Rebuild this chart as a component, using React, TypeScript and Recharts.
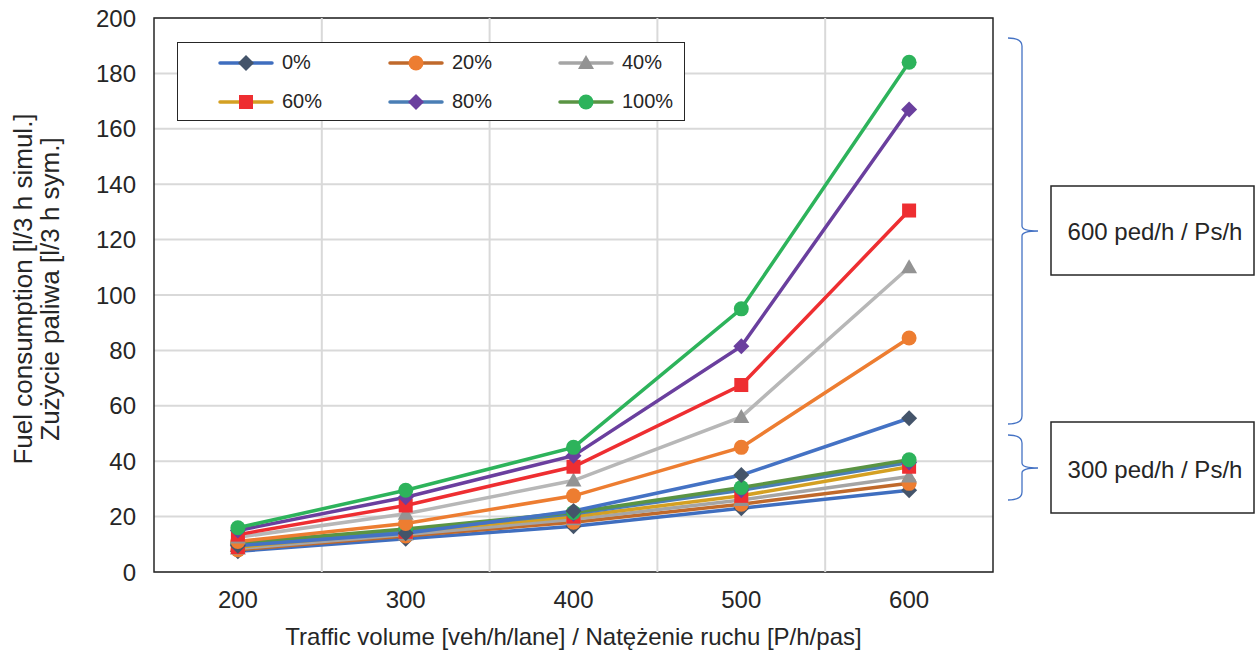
import React from "react";
import { CartesianGrid, Legend, Line, LineChart, ReferenceArea, ReferenceLine, XAxis, YAxis } from "recharts";

// traffic volume categories
const volumes = [200, 300, 400, 500, 600];
const yTicks = [0, 20, 40, 60, 80, 100, 120, 140, 160, 180, 200];
const shares = ["0%", "20%", "40%", "60%", "80%", "100%"];

// 300 ped/h
const ped300_0 = [7.5, 12, 16.5, 23, 29.5];
const ped300_20 = [8, 13, 18, 24.5, 32];
const ped300_40 = [8.5, 13.5, 19, 26, 34.5];
const ped300_60 = [9, 14.5, 20, 27.5, 38];
const ped300_80 = [10, 15, 21, 29.5, 39.5];
const ped300_100 = [10.5, 15.5, 21.5, 30.5, 40.5];

// 600 ped/h
const ped600_0 = [9.5, 14, 22, 35, 55.5];
const ped600_20 = [11, 17.5, 27.5, 45, 84.5];
const ped600_40 = [12.5, 21, 33, 56, 110];
const ped600_60 = [13.5, 24, 38, 67.5, 130.5];
const ped600_80 = [15, 27, 42, 81.5, 167];
const ped600_100 = [16, 29.5, 45, 95, 184];

type Shape = "diamond" | "circle" | "triangle" | "square";
type Series = { key: string; label: string; values: number[]; line: string; marker: string; shape: Shape };

const series300: Series[] = [
  { key: "p300_0", label: shares[0], values: ped300_0, line: "#3F6EBF", marker: "#44546A", shape: "diamond" },
  { key: "p300_20", label: shares[1], values: ped300_20, line: "#C0692B", marker: "#ED7D31", shape: "circle" },
  { key: "p300_40", label: shares[2], values: ped300_40, line: "#A5A5A5", marker: "#939393", shape: "triangle" },
  { key: "p300_60", label: shares[3], values: ped300_60, line: "#D4A022", marker: "#EE2E31", shape: "square" },
  { key: "p300_80", label: shares[4], values: ped300_80, line: "#4A7EB5", marker: "#6A3F9E", shape: "diamond" },
  { key: "p300_100", label: shares[5], values: ped300_100, line: "#5A9443", marker: "#2DB35B", shape: "circle" },
];

const series600: Series[] = [
  { key: "p600_0", label: shares[0], values: ped600_0, line: "#4472C4", marker: "#44546A", shape: "diamond" },
  { key: "p600_20", label: shares[1], values: ped600_20, line: "#ED7D31", marker: "#ED7D31", shape: "circle" },
  { key: "p600_40", label: shares[2], values: ped600_40, line: "#B7B7B7", marker: "#939393", shape: "triangle" },
  { key: "p600_60", label: shares[3], values: ped600_60, line: "#EE2E31", marker: "#EE2E31", shape: "square" },
  { key: "p600_80", label: shares[4], values: ped600_80, line: "#6A3F9E", marker: "#6A3F9E", shape: "diamond" },
  { key: "p600_100", label: shares[5], values: ped600_100, line: "#2DB35B", marker: "#2DB35B", shape: "circle" },
];

const allSeries = [...series300, ...series600];

const data = volumes.map((v, i) => {
  const row: Record<string, number> = { x: v };
  allSeries.forEach((s) => { row[s.key] = s.values[i]; });
  return row;
});

const FONT = "'Liberation Sans', Arial, sans-serif";
const TEXT = "#262626";

const markerShape = (shape: Shape, cx: number, cy: number, color: string, key?: string) => {
  if (shape === "circle") return <circle key={key} cx={cx} cy={cy} r={7.5} fill={color} />;
  if (shape === "square") return <rect key={key} x={cx - 7} y={cy - 7} width={14} height={14} fill={color} />;
  if (shape === "triangle")
    return <polygon key={key} points={`${cx},${cy - 8} ${cx + 8},${cy + 6} ${cx - 8},${cy + 6}`} fill={color} />;
  return <polygon key={key} points={`${cx},${cy - 8} ${cx + 8},${cy} ${cx},${cy + 8} ${cx - 8},${cy}`} fill={color} />;
};

const makeDot = (s: Series) => (props: any) => markerShape(s.shape, props.cx, props.cy, s.marker, `${s.key}-${props.index}`);

const LegendBox = () => (
  <div
    style={{
      width: 508, height: 79, boxSizing: "border-box", border: "1.5px solid #262626", background: "#fff",
      display: "grid", gridTemplateColumns: "170px 170px 168px", gridTemplateRows: "39px 39px",
      paddingLeft: 40, paddingTop: 0, fontFamily: FONT, fontSize: 20, color: TEXT,
    }}
  >
    {series300.map((s) => (
      <div key={s.key} style={{ display: "flex", alignItems: "center" }}>
        <svg width={56} height={20} style={{ marginRight: 8 }}>
          <line x1={2} y1={10} x2={54} y2={10} stroke={s.line} strokeWidth={3.5} strokeLinecap="round" />
          {markerShape(s.shape, 28, 10, s.marker)}
        </svg>
        <span>{s.label}</span>
      </div>
    ))}
  </div>
);

const Brace = ({ x, top, bottom, mid }: { x: number; top: number; bottom: number; mid: number }) => {
  const d = `M ${x} ${top} Q ${x + 14} ${top} ${x + 14} ${top + 8} L ${x + 14} ${mid - 5} Q ${x + 14} ${mid} ${x + 30} ${mid}`
    + ` Q ${x + 14} ${mid} ${x + 14} ${mid + 5} L ${x + 14} ${bottom - 8} Q ${x + 14} ${bottom} ${x} ${bottom}`;
  return <path d={d} fill="none" stroke="#4472C4" strokeWidth={1.3} />;
};

export default function App() {
  return (
    <div style={{ position: "absolute", left: 0, top: 0, width: 1256, height: 652, background: "#fff" }}>
      <LineChart width={1256} height={652} data={data} margin={{ top: 18, right: 263, bottom: 20, left: 94 }}>
        <CartesianGrid vertical={false} stroke="#D9D9D9" strokeWidth={2} />
        {[250, 350, 450, 550].map((v) => (
          <ReferenceLine key={v} x={v} stroke="#D9D9D9" strokeWidth={2} />
        ))}
        <ReferenceArea x1={150} x2={650} y1={0} y2={200} fill="none" stroke="#262626" strokeWidth={1.5} ifOverflow="visible" />
        <XAxis
          type="number"
          dataKey="x"
          domain={[150, 650]}
          ticks={volumes}
          axisLine={false}
          tickLine={false}
          tickMargin={13}
          height={60}
          tick={{ fontSize: 24, fill: TEXT, fontFamily: FONT }}
          label={{
            content: (p: any) => (
              <text x={p.viewBox.x + p.viewBox.width / 2} y={645} textAnchor="middle" fontSize={24} fill={TEXT} fontFamily={FONT}>
                Traffic volume [veh/h/lane] / Natężenie ruchu [P/h/pas]
              </text>
            ),
          }}
        />
        <YAxis
          domain={[0, 200]}
          ticks={yTicks}
          axisLine={false}
          tickLine={false}
          tickMargin={12}
          width={60}
          tick={{ fontSize: 24, fill: TEXT, fontFamily: FONT }}
          label={{
            content: () => (
              <g fontSize={26} fill={TEXT} fontFamily={FONT} textAnchor="middle">
                <text transform="translate(32 289) rotate(-90)">Fuel consumption [l/3 h simul.]</text>
                <text transform="translate(59 289) rotate(-90)">Zużycie paliwa [l/3 h sym.]</text>
              </g>
            ),
          }}
        />
        <Legend
          layout="vertical"
          align="center"
          verticalAlign="middle"
          content={() => <LegendBox />}
          wrapperStyle={{ left: 177, top: 42, width: 508, height: 79 }}
        />
        {allSeries.map((s) => (
          <Line
            key={s.key}
            type="linear"
            dataKey={s.key}
            stroke={s.line}
            strokeWidth={3.5}
            dot={makeDot(s)}
            activeDot={false}
            isAnimationActive={false}
          />
        ))}
      </LineChart>
      <svg width={1256} height={652} style={{ position: "absolute", left: 0, top: 0, pointerEvents: "none" }}>
        <Brace x={1008} top={38} bottom={424} mid={231} />
        <Brace x={1008} top={435} bottom={500} mid={468} />
        <g fontFamily={FONT} fontSize={24} fill={TEXT}>
          <rect x={1051} y={186} width={203} height={89} fill="#fff" stroke="#262626" strokeWidth={1.5} />
          <text x={1155} y={240} textAnchor="middle">600 ped/h / Ps/h</text>
          <rect x={1051} y={422} width={203} height={91} fill="#fff" stroke="#262626" strokeWidth={1.5} />
          <text x={1155} y={478} textAnchor="middle">300 ped/h / Ps/h</text>
        </g>
      </svg>
    </div>
  );
}
